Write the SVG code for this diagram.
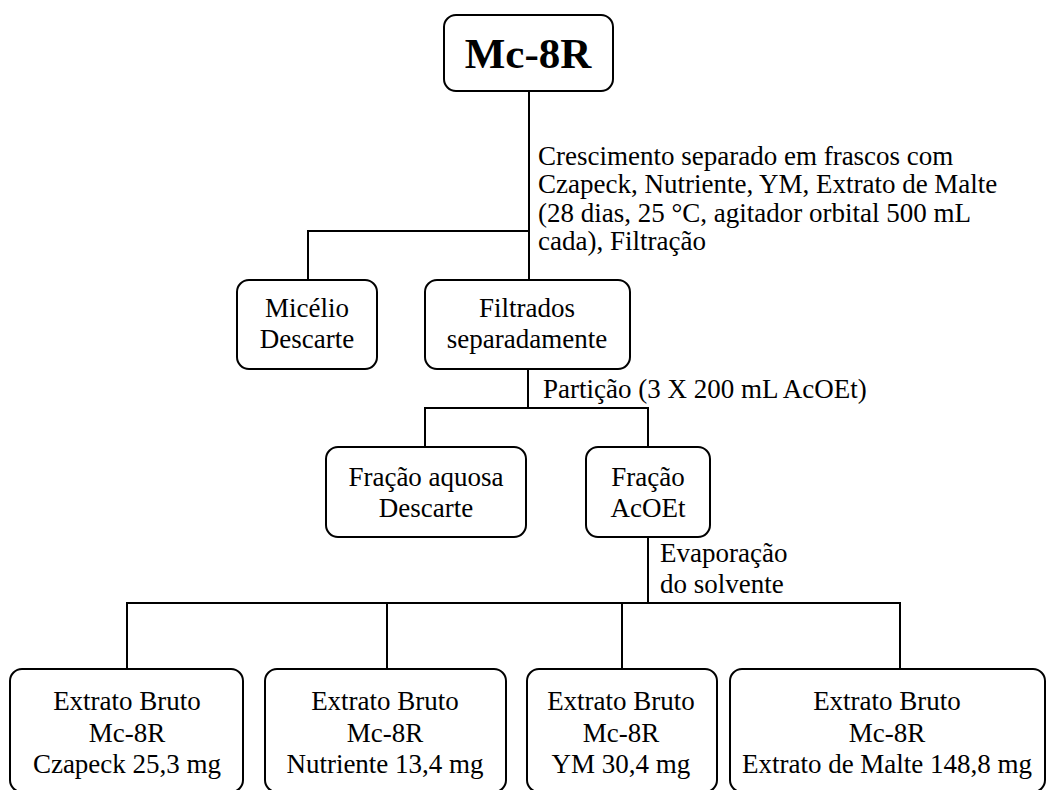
<svg xmlns="http://www.w3.org/2000/svg" width="1059" height="790" viewBox="0 0 1059 790" font-family="'Liberation Serif', Tinos, 'Times New Roman', 'DejaVu Serif', serif">
  <style>
    .box { fill: #ffffff; stroke: #000000; stroke-width: 2; }
    .link { fill: none; stroke: #000000; stroke-width: 2; }
    text { font-family: 'Liberation Serif', Tinos, 'Times New Roman', 'DejaVu Serif', serif; font-size: 27px; fill: #000000; }
    .c { text-anchor: middle; }
    .title { font-size: 43px; font-weight: bold; }
  </style>
  <rect width="1059" height="790" fill="#ffffff"/>

  <!-- connectors -->
  <g id="connectors">
    <path class="link" d="M529 91 V280"/>
    <path class="link" d="M308 280 V231 H529"/>
    <path class="link" d="M528 369 V408"/>
    <path class="link" d="M425 447 V408 H648 V447"/>
    <path class="link" d="M648 537 V603"/>
    <path class="link" d="M127 669 V603 H900 V669"/>
    <path class="link" d="M387 603 V669"/>
    <path class="link" d="M622 603 V669"/>
  </g>

  <!-- step labels -->
  <g id="labels">
    <text x="538" y="165">Crescimento separado em frascos com</text>
    <text x="538" y="193">Czapeck, Nutriente, YM, Extrato de Malte</text>
    <text x="538" y="222">(28 dias, 25 °C, agitador orbital 500 mL</text>
    <text x="538" y="250">cada), Filtração</text>
    <text x="543" y="398">Partição (3 X 200 mL AcOEt)</text>
    <text x="660" y="562">Evaporação</text>
    <text x="660" y="593">do solvente</text>
  </g>

  <g id="n-root">
    <rect class="box" x="444" y="15" width="169" height="76" rx="12"/>
    <text class="c title" x="528" y="68">Mc-8R</text>
  </g>

  <g id="n-micelio">
    <rect class="box" x="237" y="280" width="140" height="89" rx="12"/>
    <text class="c" x="307" y="317">Micélio</text>
    <text class="c" x="307" y="348">Descarte</text>
  </g>

  <g id="n-filtrados">
    <rect class="box" x="425" y="280" width="205" height="89" rx="12"/>
    <text class="c" x="527" y="317">Filtrados</text>
    <text class="c" x="527" y="348">separadamente</text>
  </g>

  <g id="n-aquosa">
    <rect class="box" x="326" y="447" width="200" height="90" rx="12"/>
    <text class="c" x="426" y="486">Fração aquosa</text>
    <text class="c" x="426" y="517">Descarte</text>
  </g>

  <g id="n-acoet">
    <rect class="box" x="586" y="447" width="124" height="90" rx="12"/>
    <text class="c" x="648" y="486">Fração</text>
    <text class="c" x="648" y="517">AcOEt</text>
  </g>

  <g id="n-czapeck">
    <rect class="box" x="10" y="669" width="233" height="123" rx="12"/>
    <text class="c" x="127" y="710">Extrato Bruto</text>
    <text class="c" x="127" y="742">Mc-8R</text>
    <text class="c" x="127" y="773">Czapeck 25,3 mg</text>
  </g>

  <g id="n-nutriente">
    <rect class="box" x="265" y="669" width="241" height="123" rx="12"/>
    <text class="c" x="385" y="710">Extrato Bruto</text>
    <text class="c" x="385" y="742">Mc-8R</text>
    <text class="c" x="385" y="773">Nutriente 13,4 mg</text>
  </g>

  <g id="n-ym">
    <rect class="box" x="527" y="669" width="190" height="123" rx="12"/>
    <text class="c" x="621" y="710">Extrato Bruto</text>
    <text class="c" x="621" y="742">Mc-8R</text>
    <text class="c" x="621" y="773">YM 30,4 mg</text>
  </g>

  <g id="n-malte">
    <rect class="box" x="730" y="669" width="315" height="123" rx="12"/>
    <text class="c" x="887" y="710">Extrato Bruto</text>
    <text class="c" x="887" y="742">Mc-8R</text>
    <text class="c" x="887" y="773">Extrato de Malte 148,8 mg</text>
  </g>
</svg>
